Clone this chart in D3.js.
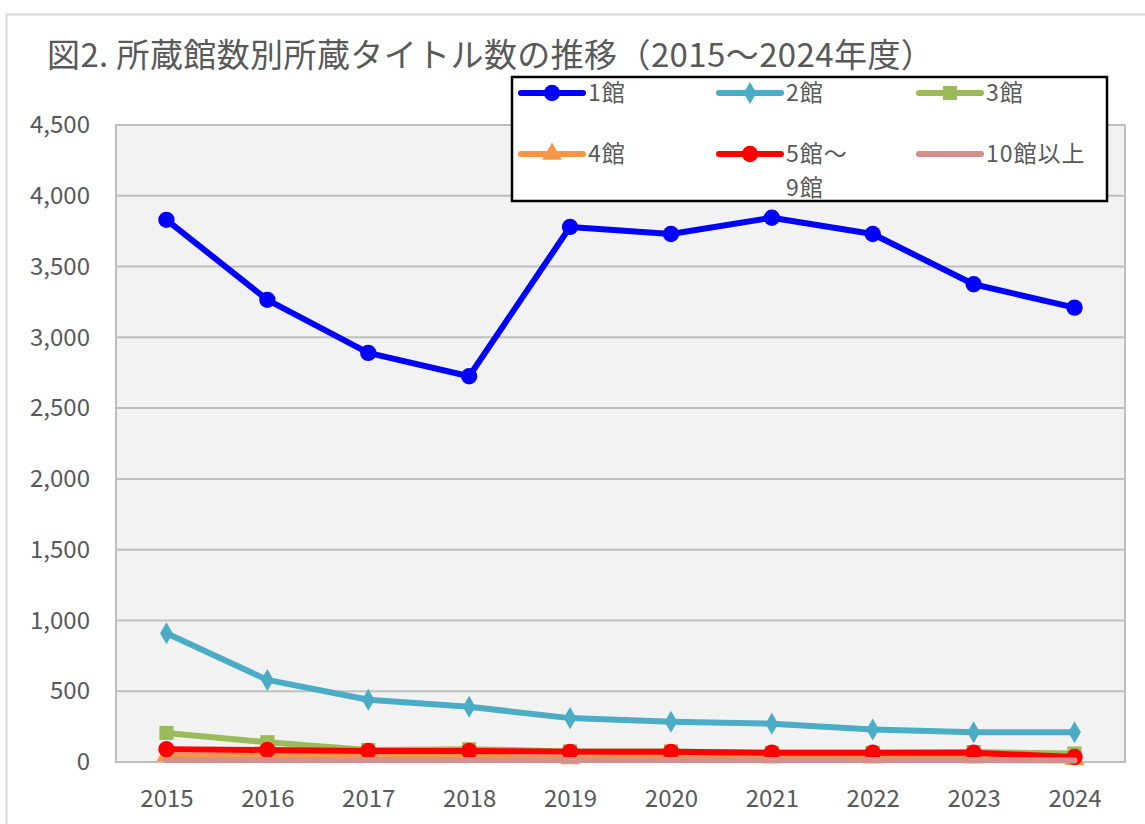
<!DOCTYPE html>
<html>
<head>
<meta charset="utf-8">
<script src="https://cdn.jsdelivr.net/npm/d3@7"></script>
<style>
  body { margin: 0; background: #fff; }
  text { font-family: "Noto Sans CJK JP", "Noto Sans", sans-serif; fill: #595959; }
</style>
</head>
<body>
<svg id="chart" width="1145" height="824"></svg>
<script>
// data
const years = ['2015', '2016', '2017', '2018', '2019', '2020', '2021', '2022', '2023', '2024'];
const yTicks = [0, 500, 1000, 1500, 2000, 2500, 3000, 3500, 4000, 4500];

const kan1 = [3830, 3265, 2890, 2725, 3780, 3730, 3845, 3730, 3375, 3210];
const kan2 = [910, 580, 440, 390, 310, 285, 270, 230, 210, 210];
const kan3 = [205, 140, 85, 90, 75, 75, 65, 65, 70, 60];
const kan4 = [45, 45, 40, 40, 25, 35, 30, 30, 30, 20];
const kan5to9 = [90, 85, 78, 78, 72, 72, 65, 65, 65, 35];
const kan10plus = [15, 15, 15, 15, 15, 15, 15, 15, 15, 10];

const series = [
    { name: '1館', values: kan1, color: '#0000FF', marker: 'circle' },
    { name: '2館', values: kan2, color: '#4BACC6', marker: 'diamond' },
    { name: '3館', values: kan3, color: '#9BBB59', marker: 'square' },
    { name: '4館', values: kan4, color: '#F79646', marker: 'triangle' },
    { name: '5館～\n9館', values: kan5to9, color: '#FF0000', marker: 'circle' },
    { name: '10館以上', values: kan10plus, color: '#D4908F', marker: null }
];

const svg = d3.select('#chart');

// outer chart frame
svg.append('rect')
    .attr('x', 6.5).attr('y', 14.5)
    .attr('width', 1200).attr('height', 900)
    .attr('fill', '#fff')
    .attr('stroke', '#D9D9D9').attr('stroke-width', 2);

// title
svg.append('text')
    .attr('x', 47).attr('y', 67)
    .attr('font-size', 33)
    .attr('letter-spacing', 0.4)
    .text('図2. 所蔵館数別所蔵タイトル数の推移（2015～2024年度）');

const plot = { left: 116, right: 1125, top: 125, bottom: 762 };

const x = d3.scalePoint()
    .domain(years)
    .range([plot.left, plot.right])
    .padding(0.5);

const y = d3.scaleLinear()
    .domain([0, 4500])
    .range([plot.bottom, plot.top]);

// plot area
svg.append('rect')
    .attr('x', plot.left).attr('y', plot.top)
    .attr('width', plot.right - plot.left).attr('height', plot.bottom - plot.top)
    .attr('fill', '#F2F2F2')
    .attr('stroke', '#BFBFBF').attr('stroke-width', 2);

// gridlines
svg.append('g')
    .selectAll('line')
    .data(yTicks)
    .enter().append('line')
    .attr('x1', plot.left).attr('x2', plot.right)
    .attr('y1', d => y(d)).attr('y2', d => y(d))
    .attr('stroke', '#BFBFBF').attr('stroke-width', 2);

// y axis labels
const yAxis = d3.axisLeft(y).tickValues(yTicks).tickFormat(d3.format(',')).tickSize(0).tickPadding(26);
const gy = svg.append('g')
    .attr('transform', `translate(${plot.left},0)`)
    .call(yAxis);
gy.select('.domain').remove();
gy.selectAll('text').attr('font-size', 24).attr('fill', '#595959')
    .style('font-family', '"Noto Sans CJK JP", sans-serif');

// x axis labels
const xAxis = d3.axisBottom(x).tickSize(0).tickPadding(28);
const gx = svg.append('g')
    .attr('transform', `translate(0,${plot.bottom})`)
    .call(xAxis);
gx.select('.domain').remove();
gx.selectAll('text').attr('font-size', 24).attr('fill', '#595959')
    .style('font-family', '"Noto Sans CJK JP", sans-serif');

const symbolFor = {
    circle: d3.symbol().type(d3.symbolCircle).size(210),
    diamond: d3.symbol().type(d3.symbolDiamond).size(140),
    square: d3.symbol().type(d3.symbolSquare).size(200),
    triangle: d3.symbol().type(d3.symbolTriangle).size(170)
};

const line = d3.line()
    .x((d, i) => x(years[i]))
    .y(d => y(d));

series.forEach(s => {
    const g = svg.append('g');
    g.append('path')
        .datum(s.values)
        .attr('d', line)
        .attr('fill', 'none')
        .attr('stroke', s.color)
        .attr('stroke-width', 6)
        .attr('stroke-linejoin', 'round')
        .attr('stroke-linecap', 'round');
    if (s.marker) {
        g.selectAll('path.mark')
            .data(s.values)
            .enter().append('path')
            .attr('class', 'mark')
            .attr('d', symbolFor[s.marker])
            .attr('transform', (d, i) => `translate(${x(years[i])},${y(d)})`)
            .attr('fill', s.color);
    }
});

// legend
const legend = svg.append('g');
legend.append('rect')
    .attr('x', 512).attr('y', 77)
    .attr('width', 595).attr('height', 124)
    .attr('fill', '#fff')
    .attr('stroke', '#000').attr('stroke-width', 2.5);

const colX = [521, 719, 919];
const rowY = [93, 154];

series.forEach((s, i) => {
    const lx = colX[i % 3];
    const ly = rowY[Math.floor(i / 3)];
    legend.append('line')
        .attr('x1', lx).attr('x2', lx + 62)
        .attr('y1', ly).attr('y2', ly)
        .attr('stroke', s.color).attr('stroke-width', 6)
        .attr('stroke-linecap', 'round');
    if (s.marker) {
        legend.append('path')
            .attr('d', symbolFor[s.marker])
            .attr('transform', `translate(${lx + 31},${ly})`)
            .attr('fill', s.color);
    }
    const t = legend.append('text')
        .attr('x', lx + 67).attr('y', ly + 8)
        .attr('font-size', 23)
        .attr('letter-spacing', 1);
    s.name.split('\n').forEach((part, k) => {
        t.append('tspan')
            .attr('x', lx + 67)
            .attr('dy', k === 0 ? 0 : 34)
            .text(part);
    });
});
</script>
</body>
</html>
